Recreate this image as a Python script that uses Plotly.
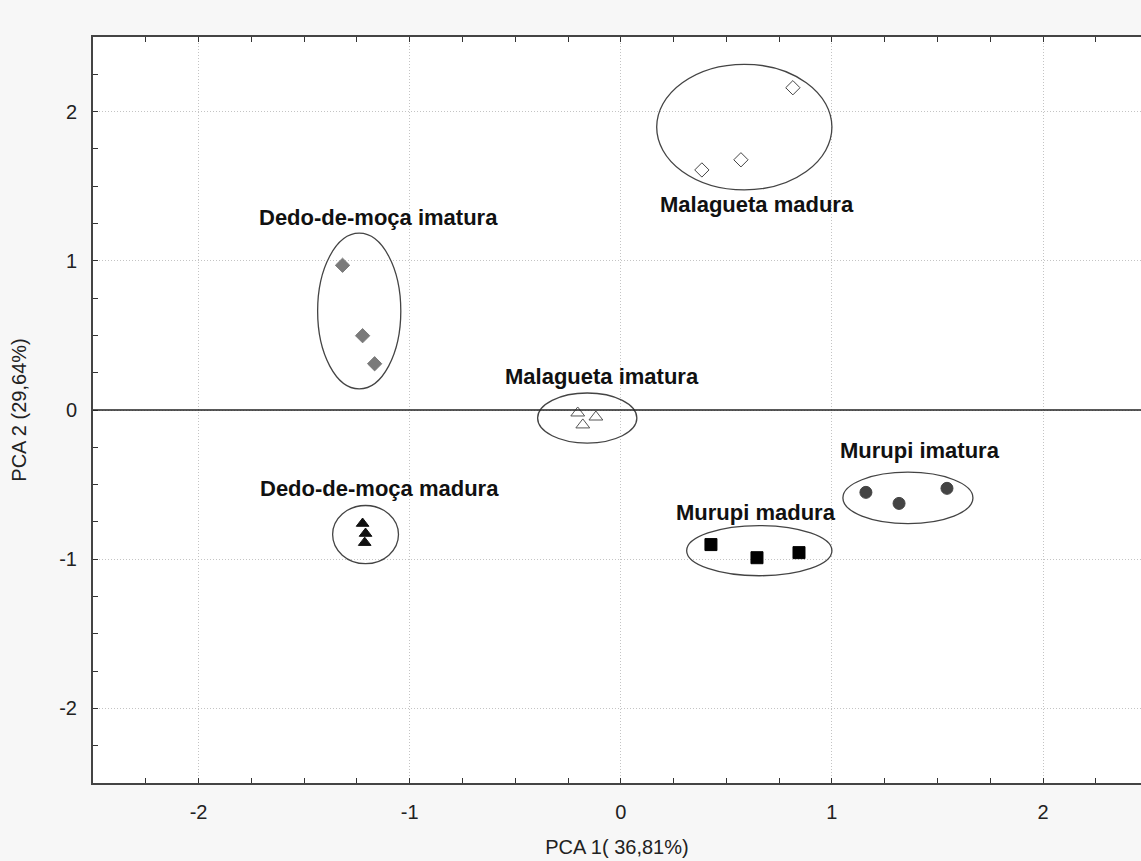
import plotly.graph_objects as go

# ---- data (PCA scores) ----
dm_imatura_x = [-1.318, -1.223, -1.166]
dm_imatura_y = [0.97, 0.498, 0.31]
dm_madura_x = [-1.223, -1.209, -1.213]
dm_madura_y = [-0.761, -0.828, -0.889]
mal_imatura_x = [-0.204, -0.18, -0.118]
mal_imatura_y = [-0.02, -0.10, -0.047]
mal_madura_x = [0.815, 0.569, 0.384]
mal_madura_y = [2.16, 1.677, 1.609]
mur_madura_x = [0.427, 0.645, 0.844]
mur_madura_y = [-0.902, -0.99, -0.956]
mur_imatura_x = [1.161, 1.318, 1.545]
mur_imatura_y = [-0.552, -0.626, -0.525]

# group ellipses: center x, center y, half-width, half-height
ellipse_cx = [-1.239, -1.209, -0.159, 0.585, 0.656, 1.36]
ellipse_cy = [0.663, -0.835, -0.054, 1.896, -0.943, -0.589]
ellipse_rx = [0.197, 0.156, 0.235, 0.415, 0.344, 0.308]
ellipse_ry = [0.522, 0.195, 0.168, 0.421, 0.168, 0.172]

group_labels = ["Dedo-de-moça imatura", "Dedo-de-moça madura", "Malagueta imatura",
                "Malagueta madura", "Murupi madura", "Murupi imatura"]
label_x = [-1.147, -1.142, -0.09, 0.645, 0.64, 1.417]
label_y = [1.293, -0.525, 0.222, 1.38, -0.687, -0.269]

tick_values = [-2, -1, 0, 1, 2]
tick_labels = ["-2", "-1", "0", "1", "2"]

x_title = "PCA 1( 36,81%)"
y_title = "PCA 2 (29,64%)"

FONT = "Liberation Sans, Arial"

fig = go.Figure()

series = [
    (dm_imatura_x, dm_imatura_y, "diamond", "#7a7a7a", 11),
    (dm_madura_x, dm_madura_y, "triangle-up", "#111111", 11),
    (mal_imatura_x, mal_imatura_y, "triangle-up-open", "#555555", 12),
    (mal_madura_x, mal_madura_y, "diamond-open", "#444444", 11),
    (mur_madura_x, mur_madura_y, "square", "#000000", 12),
    (mur_imatura_x, mur_imatura_y, "circle", "#444444", 12),
]
for xs, ys, sym, col, sz in series:
    fig.add_trace(go.Scatter(x=xs, y=ys, mode="markers",
                             marker=dict(symbol=sym, color=col, size=sz,
                                         line=dict(color=col, width=1)),
                             showlegend=False, hoverinfo="skip"))

shapes = []
for cx, cy, rx, ry in zip(ellipse_cx, ellipse_cy, ellipse_rx, ellipse_ry):
    shapes.append(dict(type="circle", xref="x", yref="y",
                       x0=cx - rx, x1=cx + rx, y0=cy - ry, y1=cy + ry,
                       line=dict(color="#444444", width=1.3), layer="above"))
# horizontal zero line
shapes.append(dict(type="line", xref="paper", yref="y", x0=0, x1=1, y0=0, y1=0,
                   line=dict(color="#222222", width=1.5), layer="above"))

annotations = []
for t, lx, ly in zip(group_labels, label_x, label_y):
    annotations.append(dict(x=lx, y=ly, xref="x", yref="y", text="<b>" + t + "</b>",
                            showarrow=False, font=dict(family=FONT, size=22, color="#111111")))

axis_common = dict(
    showgrid=True, gridcolor="#c4c4c4", griddash="1px,2px", gridwidth=1,
    zeroline=False, showline=True, linecolor="#444444", linewidth=2,
    ticks="inside", ticklen=5, tickcolor="#333333",
    tickmode="array", tickvals=tick_values, ticktext=tick_labels,
    tickfont=dict(family=FONT, size=20, color="#222222"),
    minor=dict(ticks="inside", ticklen=5, tickcolor="#333333", dtick=0.25, tick0=0,
               showgrid=False),
)

fig.update_layout(
    width=1141, height=861,
    paper_bgcolor="#f7f7f7", plot_bgcolor="#ffffff",
    margin=dict(l=93, r=0, t=37, b=78, autoexpand=False),
    xaxis=dict(range=[-2.5, 2.464], mirror="ticks",
               title=dict(text=x_title, standoff=18,
                          font=dict(family=FONT, size=20, color="#222222")),
               ticklabelstandoff=10, **axis_common),
    yaxis=dict(range=[-2.5, 2.5], mirror=False,
               title=dict(text=y_title, standoff=27,
                          font=dict(family=FONT, size=20, color="#222222")),
               ticklabelstandoff=10, **axis_common),
    shapes=shapes, annotations=annotations,
)

fig.write_html("out.html", config={"displayModeBar": False},
               post_script="document.body.style.margin='0';document.body.style.overflow='hidden';")
